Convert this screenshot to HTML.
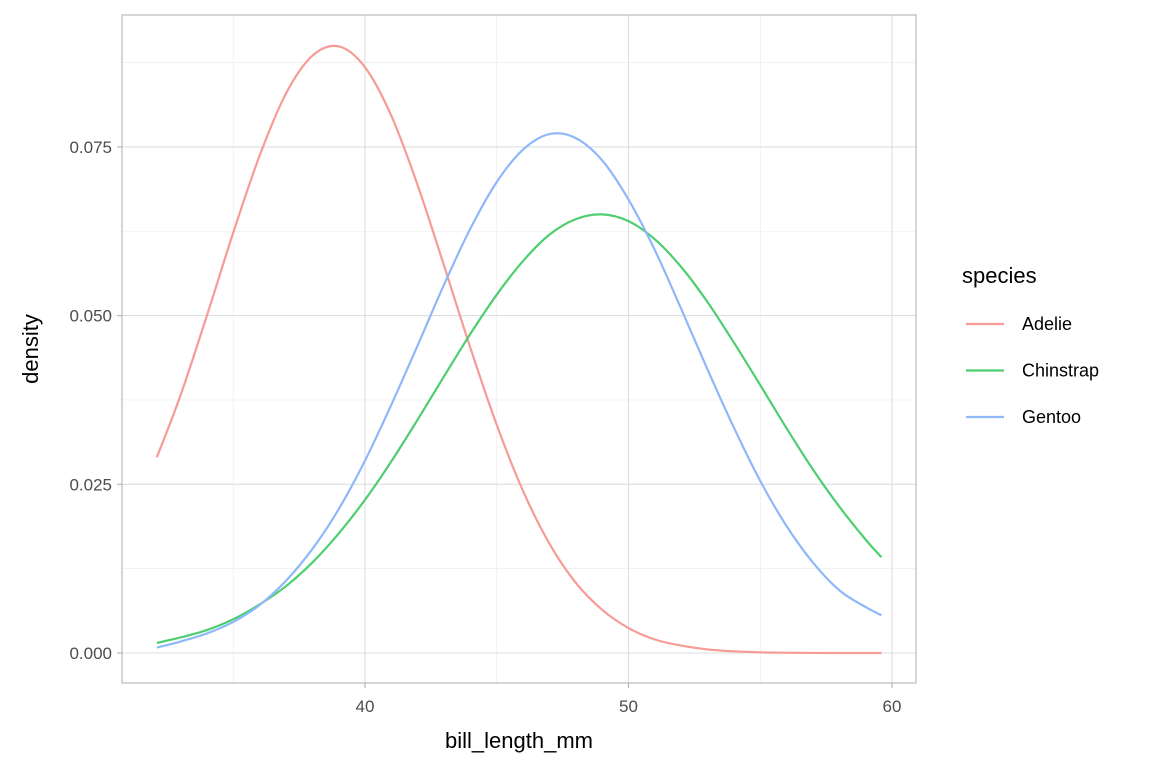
<!DOCTYPE html>
<html><head><meta charset="utf-8"><style>
body{margin:0;background:#fff;}
svg text{font-family:"Liberation Sans",sans-serif;}
</style></head><body>
<svg id="chart" width="1152" height="768" xmlns="http://www.w3.org/2000/svg">
<g id="grid"></g>
<g id="curves"></g>
<rect x="122" y="15" width="794" height="668" fill="none" stroke="#b3b3b3" stroke-width="1.1"/>
<g id="axes"></g>
<text x="519" y="748" font-size="22" text-anchor="middle" fill="#000">bill_length_mm</text>
<text transform="translate(38,349) rotate(-90)" font-size="22" text-anchor="middle" fill="#000">density</text>
<g id="legend">
<text x="962" y="283" font-size="22" fill="#000">species</text>
</g>
</svg>
<script>
const xs = [32.1,33,34,35,36,37,38,39,40,41,42,43,44,45,46,47,48,49,50,51,52,53,54,55,56,57,58,59,59.6];
const names = ["Adelie","Chinstrap","Gentoo"];
const colors = ["#F69B96","#4DCE6F","#8FB8FA"];
const adelie = [0.029,0.0382,0.0500,0.0623,0.0737,0.0829,0.0885,0.0899,0.0868,0.0796,0.0693,0.0574,0.0452,0.0338,0.0240,0.0162,0.0104,0.0064,0.0037,0.0020,0.0011,0.00053,0.00025,0.0001,0.00004,0.00001,0,0,0];
const chinstrap = [0.0015,0.0023,0.0034,0.0050,0.0072,0.0099,0.0134,0.0177,0.0227,0.0284,0.0346,0.0410,0.0473,0.0531,0.0581,0.0620,0.0643,0.0650,0.0640,0.0613,0.0572,0.0520,0.0460,0.0397,0.0333,0.0272,0.0217,0.0168,0.0142];
const gentoo = [0.0008,0.0017,0.0029,0.0046,0.0071,0.0107,0.0154,0.0213,0.0285,0.0368,0.0456,0.0546,0.0629,0.0698,0.0746,0.0769,0.0763,0.0730,0.0672,0.0597,0.0510,0.0420,0.0334,0.0255,0.0188,0.0134,0.0093,0.0068,0.0056];
const series = [adelie, chinstrap, gentoo];
const xTicks = [40,50,60];
const xMinor = [35,45,55];
const yTicks = [0,0.025,0.05,0.075];
const yTickLabels = ["0.000","0.025","0.050","0.075"];
const yMinor = [0.0125,0.0375,0.0625,0.0875];

const X = v => 365 + (v-40)*26.35;
const Y = v => 653 - v*6748;
const NS="http://www.w3.org/2000/svg";
function mk(tag, attrs, parent){const e=document.createElementNS(NS,tag);for(const k in attrs)e.setAttribute(k,attrs[k]);parent.appendChild(e);return e;}
const grid=document.getElementById('grid'), axes=document.getElementById('axes'), curves=document.getElementById('curves'), legend=document.getElementById('legend');
xMinor.forEach(v=>{const l=mk('line',{x1:X(v),x2:X(v),y1:15,y2:683,stroke:'#ebebeb','stroke-width':0.6},grid);

});
yMinor.forEach(v=>{const l=mk('line',{x1:122,x2:916,y1:Y(v),y2:Y(v),stroke:'#ebebeb','stroke-width':0.6},grid);

});
xTicks.forEach(v=>{const l=mk('line',{x1:X(v),x2:X(v),y1:15,y2:683,stroke:'#dedede','stroke-width':1.1},grid);


const t=mk('line',{x1:X(v),x2:X(v),y1:683,y2:688,stroke:'#b3b3b3','stroke-width':1.1},axes);


const tx=mk('text',{x:X(v),y:712,'font-size':17,'text-anchor':'middle',fill:'#4d4d4d'},axes);tx.textContent=v;

});
yTicks.forEach((v,i)=>{const l=mk('line',{x1:122,x2:916,y1:Y(v),y2:Y(v),stroke:'#dedede','stroke-width':1.1},grid);


const t=mk('line',{x1:117,x2:122,y1:Y(v),y2:Y(v),stroke:'#b3b3b3','stroke-width':1.1},axes);


const tx=mk('text',{x:112,y:Y(v)+6,'font-size':17,'text-anchor':'end',fill:'#4d4d4d'},axes);tx.textContent=yTickLabels[i];

});
function pathFor(vals){const p=xs.map((x,i)=>[X(x),Y(vals[i])]);let d=`M${p[0][0]},${p[0][1]}`;
for(let i=0;i<p.length-1;i++){const p0=p[Math.max(0,i-1)],p1=p[i],p2=p[i+1],p3=p[Math.min(p.length-1,i+2)];
const c1=[p1[0]+(p2[0]-p0[0])/6,p1[1]+(p2[1]-p0[1])/6],c2=[p2[0]-(p3[0]-p1[0])/6,p2[1]-(p3[1]-p1[1])/6];
d+=` C${c1[0]},${c1[1]} ${c2[0]},${c2[1]} ${p2[0]},${p2[1]}`;}return d;}
series.forEach((s,i)=>{const c=mk('path',{d:pathFor(s),fill:'none',stroke:colors[i],'stroke-width':2.2},curves);


const ly=324+i*46.5;
const ll=mk('line',{x1:966,x2:1004,y1:ly,y2:ly,stroke:colors[i],'stroke-width':2.2},legend);


const lt=mk('text',{x:1022,y:ly+6,'font-size':18,fill:'#000'},legend);lt.textContent=names[i];

});
</script>
</body></html>
